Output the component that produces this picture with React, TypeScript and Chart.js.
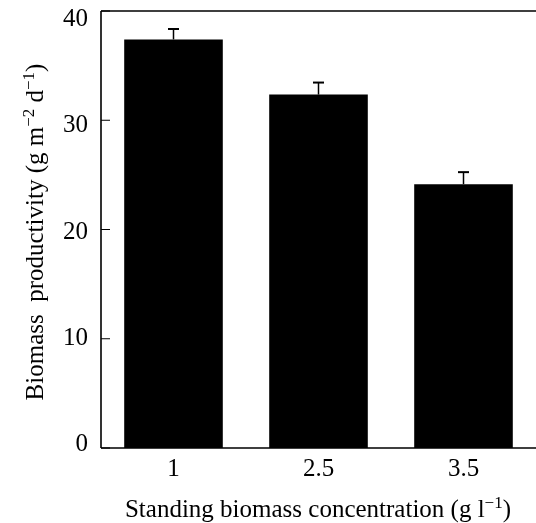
import React, { useEffect, useRef } from "react";
import { Chart, registerables } from "chart.js";

Chart.register(...registerables);

// ---- data ----
const categories = ["1", "2.5", "3.5"];
const productivity = [37.4, 32.35, 24.15];
const errorUp = [0.95, 1.1, 1.1];
const yMin = 0;
const yMax = 40;
const yTickValues = [0, 10, 20, 30, 40];

type Part = { t: string; sup?: boolean };
const xTitleParts: Part[] = [
  { t: "Standing biomass concentration (g l" },
  { t: "\u22121", sup: true },
  { t: ")" },
];
const yTitleParts: Part[] = [
  { t: "Biomass  productivity (g m" },
  { t: "\u22122", sup: true },
  { t: " d" },
  { t: "\u22121", sup: true },
  { t: ")" },
];

const FONT = '"Liberation Serif", "Times New Roman", serif';
const BASE = 25;
const SUP = 17;
const RAISE = 9;

function drawRich(ctx: CanvasRenderingContext2D, parts: Part[], cx: number, baseline: number) {
  let total = 0;
  const widths: number[] = [];
  for (const p of parts) {
    ctx.font = `${p.sup ? SUP : BASE}px ${FONT}`;
    const w = ctx.measureText(p.t).width;
    widths.push(w);
    total += w;
  }
  let x = cx - total / 2;
  ctx.textAlign = "left";
  ctx.textBaseline = "alphabetic";
  ctx.fillStyle = "#000";
  parts.forEach((p, i) => {
    ctx.font = `${p.sup ? SUP : BASE}px ${FONT}`;
    ctx.fillText(p.t, x, p.sup ? baseline - RAISE : baseline);
    x += widths[i];
  });
}

const decorPlugin = {
  id: "decor",
  afterDraw(chart: any) {
    const ctx: CanvasRenderingContext2D = chart.ctx;
    const { left, top, bottom } = chart.chartArea;
    const yScale = chart.scales.y;
    ctx.save();
    ctx.strokeStyle = "#000";
    // frame
    ctx.lineWidth = 1.6;
    ctx.beginPath();
    ctx.moveTo(left, top);
    ctx.lineTo(chart.width + 2, top);
    ctx.moveTo(left, top);
    ctx.lineTo(left, bottom);
    ctx.moveTo(left, bottom);
    ctx.lineTo(chart.width + 2, bottom);
    ctx.stroke();
    // inward ticks
    ctx.lineWidth = 1.2;
    ctx.beginPath();
    for (const v of yTickValues) {
      const y = yScale.getPixelForValue(v);
      ctx.moveTo(left, y);
      ctx.lineTo(left + 9, y);
    }
    ctx.stroke();
    // error bars (upper only)
    const meta = chart.getDatasetMeta(0);
    meta.data.forEach((el: any, i: number) => {
      const yCap = yScale.getPixelForValue(productivity[i] + errorUp[i]);
      ctx.lineWidth = 1.5;
      ctx.beginPath();
      ctx.moveTo(el.x, el.y);
      ctx.lineTo(el.x, yCap);
      ctx.stroke();
      ctx.lineWidth = 2;
      ctx.beginPath();
      ctx.moveTo(el.x - 5.5, yCap);
      ctx.lineTo(el.x + 5.5, yCap);
      ctx.stroke();
    });
    // axis titles
    drawRich(ctx, xTitleParts, 318, 517);
    ctx.save();
    ctx.translate(43, 232);
    ctx.rotate(-Math.PI / 2);
    drawRich(ctx, yTitleParts, 0, 0);
    ctx.restore();
    ctx.restore();
  },
};

export default function App() {
  const ref = useRef<HTMLCanvasElement | null>(null);
  useEffect(() => {
    if (!ref.current) return;
    const chart = new Chart(ref.current, {
      type: "bar",
      data: {
        labels: categories,
        datasets: [
          {
            data: productivity,
            backgroundColor: "#000",
            borderWidth: 0,
            categoryPercentage: 1,
            barPercentage: 0.68,
            yAxisID: "y",
          },
        ],
      },
      options: {
        responsive: false,
        animation: false,
        devicePixelRatio: 1,
        layout: { padding: { top: 11, right: -1, left: 0, bottom: 0 } },
        plugins: { legend: { display: false }, tooltip: { enabled: false } },
        scales: {
          x: {
            grid: { display: false, drawTicks: false },
            border: { display: false },
            ticks: {
              color: "#000",
              font: { family: FONT, size: BASE },
              padding: 6,
              maxRotation: 0,
            },
            afterFit: (s: any) => {
              s.height = 75;
              s.paddingLeft = 0;
              s.paddingRight = 0;
            },
          },
          y: {
            display: false,
            min: yMin,
            max: yMax,
          },
          // label axis: same tick values, placed like the reference's labels
          yl: {
            type: "linear",
            position: "left",
            min: -0.33,
            max: 40.8,
            grid: { display: false, drawTicks: false },
            border: { display: false },
            afterBuildTicks: (s: any) => {
              s.ticks = yTickValues.map((v) => ({ value: v }));
            },
            ticks: {
              color: "#000",
              font: { family: FONT, size: BASE },
              padding: 13,
              callback: (v: any) => String(v),
            },
            afterFit: (s: any) => {
              s.width = 101;
              s.paddingTop = 0;
              s.paddingBottom = 0;
            },
          },
        },
      },
      plugins: [decorPlugin],
    } as any);
    return () => chart.destroy();
  }, []);
  return (
    <div style={{ position: "absolute", left: 0, top: 0, width: 536, height: 523, background: "#fff" }}>
      <canvas ref={ref} width={536} height={523} style={{ width: 536, height: 523, display: "block" }} />
    </div>
  );
}
